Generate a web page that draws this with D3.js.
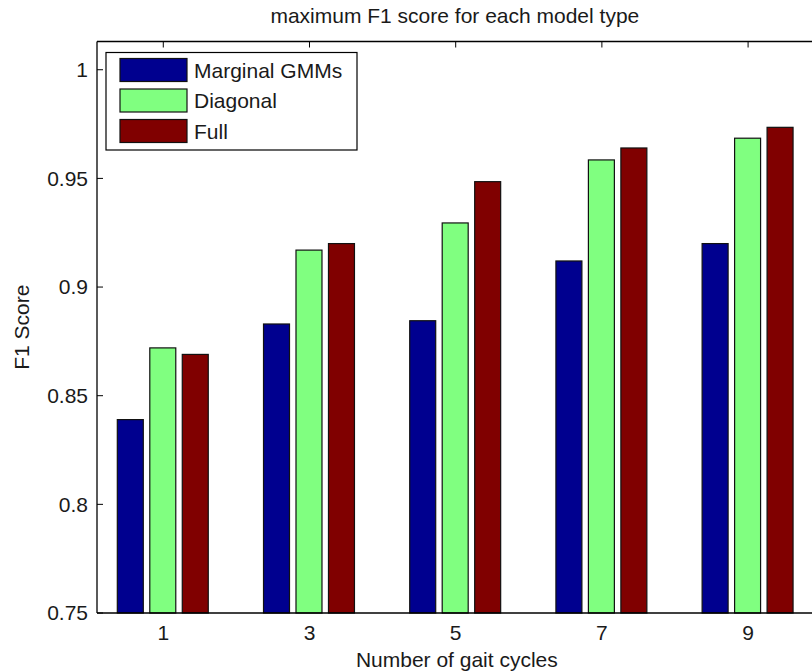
<!DOCTYPE html>
<html>
<head>
<meta charset="utf-8">
<script src="https://cdn.jsdelivr.net/npm/d3@7/dist/d3.min.js"></script>
<style>
  html, body { margin: 0; padding: 0; background: #fff; }
  svg { display: block; }
  text { font-family: "Liberation Sans", Arial, Helvetica, sans-serif; fill: #1a1a1a; }
</style>
</head>
<body>
<svg id="chart" width="812" height="672"></svg>
<script>
// Number of gait cycles (group positions on the x axis)
const categories = [1, 3, 5, 7, 9];
const seriesNames = ["Marginal GMMs", "Diagonal", "Full"];
// maximum F1 score per model type
const marginalGMMs = [0.839, 0.883, 0.8845, 0.912, 0.920];
const diagonal     = [0.872, 0.917, 0.9295, 0.9585, 0.9685];
const full         = [0.869, 0.920, 0.9485, 0.964, 0.9735];
const yTickValues  = [0.75, 0.8, 0.85, 0.9, 0.95, 1];
const xTickValues  = [1, 3, 5, 7, 9];
const seriesColors = ["#00008f", "#80ff80", "#800000"];

const series = [marginalGMMs, diagonal, full];

(function draw() {
  const svg = d3.select("#chart");
  const W = 812, H = 672;
  svg.append("rect").attr("width", W).attr("height", H).attr("fill", "#fff");

  // axes box (the right side runs past the edge of the figure)
  const plotLeft = 97, plotTop = 41.5, plotBottom = 613;
  const x = d3.scaleLinear().domain([0.1, 10]).range([plotLeft, plotLeft + 9.9 * 73.1]);
  const y = d3.scaleLinear().domain([0.75, 1.013]).range([plotBottom, plotTop]);

  const fontSize = 21;
  const tickLen = 6;

  const axisLayer = svg.append("g");
  const barLayer = svg.append("g");

  // grouped bars: three series per group
  const groupWidth = 1.333;          // in x units
  const step = groupWidth / 3;       // distance between bar centres
  const barWidth = step * 0.8;

  series.forEach((vals, si) => {
    barLayer.append("g")
      .selectAll("rect")
      .data(categories.map((c, i) => ({ c, v: vals[i] })))
      .join("rect")
      .attr("x", d => x(d.c + (si - 1) * step - barWidth / 2))
      .attr("width", d => x(d.c + barWidth / 2) - x(d.c - barWidth / 2))
      .attr("y", d => y(d.v))
      .attr("height", d => y(0.75) - y(d.v))
      .attr("fill", seriesColors[si])
      .attr("stroke", "#111")
      .attr("stroke-width", 1.2);
  });

  // bottom axis labels
  const xAxisBottom = d3.axisBottom(x).tickValues(xTickValues).tickSize(0).tickPadding(12)
    .tickFormat(d3.format("d"));
  const gxb = axisLayer.append("g").attr("transform", `translate(0,${plotBottom})`).call(xAxisBottom);
  gxb.select(".domain").remove();
  gxb.selectAll("text").attr("font-size", fontSize).style("font-family", null);

  // bottom inward tick marks (drawn under the bars)
  axisLayer.append("g").selectAll("line").data(xTickValues).join("line")
    .attr("x1", d => x(d)).attr("x2", d => x(d))
    .attr("y1", plotBottom).attr("y2", plotBottom - tickLen)
    .attr("stroke", "#000");

  // top axis: inward tick marks only
  const xAxisTop = d3.axisBottom(x).tickValues(xTickValues).tickSize(tickLen).tickFormat("");
  const gxt = svg.append("g").attr("transform", `translate(0,${plotTop})`).call(xAxisTop);
  gxt.select(".domain").remove();
  gxt.selectAll("line").attr("stroke", "#000");

  // left axis with inward ticks
  const yAxis = d3.axisLeft(y).tickValues(yTickValues).tickSize(0).tickPadding(9)
    .tickFormat(d => String(+d.toFixed(2)));
  const gy = svg.append("g").attr("transform", `translate(${plotLeft},0)`).call(yAxis);
  gy.select(".domain").remove();
  gy.selectAll("text").attr("font-size", fontSize).style("font-family", null);
  svg.append("g").selectAll("line").data(yTickValues).join("line")
    .attr("x1", plotLeft).attr("x2", plotLeft + tickLen)
    .attr("y1", d => y(d)).attr("y2", d => y(d))
    .attr("stroke", "#000");

  // axes frame: left, top and bottom lines
  svg.append("line").attr("x1", plotLeft).attr("x2", plotLeft).attr("y1", plotTop).attr("y2", plotBottom)
    .attr("stroke", "#000").attr("stroke-width", 1.3);
  svg.append("line").attr("x1", plotLeft).attr("x2", W + 20).attr("y1", plotTop).attr("y2", plotTop)
    .attr("stroke", "#000").attr("stroke-width", 1.3);
  svg.append("line").attr("x1", plotLeft).attr("x2", W + 20).attr("y1", plotBottom).attr("y2", plotBottom)
    .attr("stroke", "#000").attr("stroke-width", 1.3);

  // title and axis labels, centred on the axes box
  const axisCenterX = (x.range()[0] + x.range()[1]) / 2;
  svg.append("text").attr("x", axisCenterX - 4).attr("y", 23)
    .attr("text-anchor", "middle").attr("font-size", fontSize)
    .text("maximum F1 score for each model type");
  svg.append("text").attr("x", axisCenterX - 2).attr("y", 667)
    .attr("text-anchor", "middle").attr("font-size", fontSize)
    .text("Number of gait cycles");
  svg.append("text")
    .attr("transform", `translate(29,${(plotTop + plotBottom) / 2}) rotate(-90)`)
    .attr("text-anchor", "middle").attr("font-size", fontSize)
    .text("F1 Score");

  // legend
  const legend = svg.append("g");
  legend.append("rect").attr("x", 106).attr("y", 52.5).attr("width", 251).attr("height", 97.5)
    .attr("fill", "#fff").attr("stroke", "#000").attr("stroke-width", 1.2);
  const rowY = d3.scaleLinear().domain([0, 2]).range([70, 131]);
  seriesNames.forEach((name, i) => {
    legend.append("rect").attr("x", 120).attr("y", rowY(i) - 11.5)
      .attr("width", 67).attr("height", 23)
      .attr("fill", seriesColors[i]).attr("stroke", "#111").attr("stroke-width", 1.2);
    legend.append("text").attr("x", 194).attr("y", rowY(i) + 7.5)
      .attr("font-size", fontSize).text(name);
  });
})();
</script>
</body>
</html>
